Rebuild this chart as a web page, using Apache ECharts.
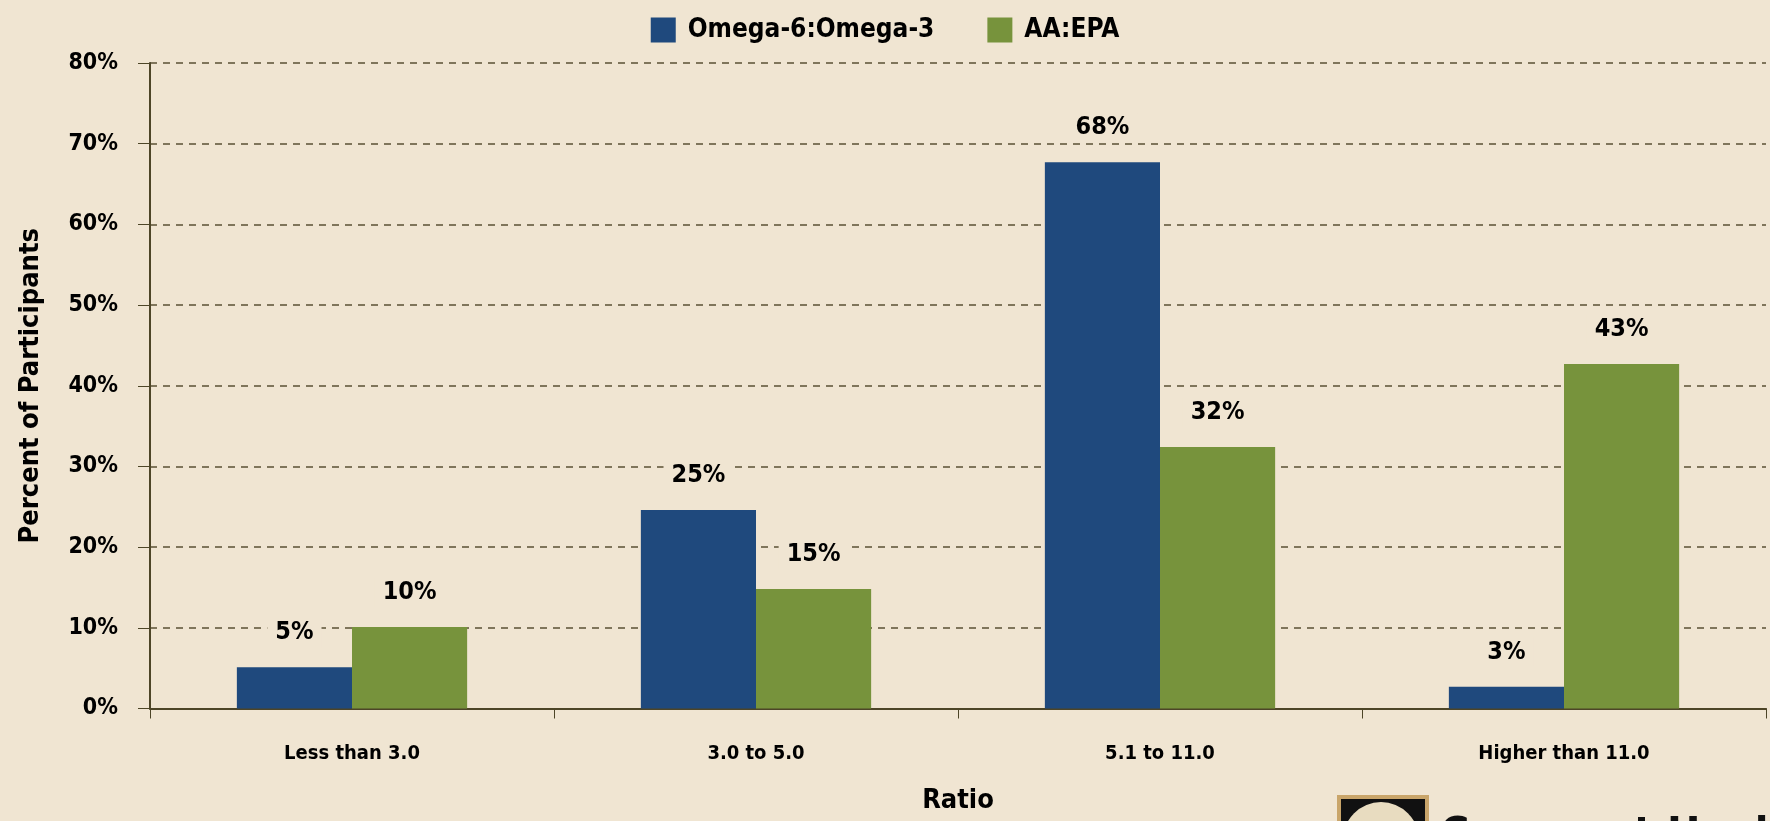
<!DOCTYPE html>
<html>
<head>
<meta charset="utf-8">
<script src="https://cdn.jsdelivr.net/npm/echarts@6/dist/echarts.min.js"></script>
<style>
html,body{margin:0;padding:0;background:#F0E5D2;}
#chart{width:1770px;height:821px;}
</style>
</head>
<body>
<div id="chart"></div>
<script>
var categories = ['Less than 3.0', '3.0 to 5.0', '5.1 to 11.0', 'Higher than 11.0'];
var omegaRatio = [5.1, 24.6, 67.7, 2.7];
var aaEpa = [10.1, 14.8, 32.4, 42.7];
var seriesNames = ['Omega-6:Omega-3', 'AA:EPA'];
var yTicks = {min: 0, max: 80, interval: 10};

var FONT = "'DejaVu Sans Condensed', 'Liberation Sans Narrow', sans-serif";
var BG = '#F0E5D2';
var AXIS = '#4d4527';

var chart = echarts.init(document.getElementById('chart'), null, {renderer: 'canvas'});

function labelCfg() {
  return {
    show: true,
    position: 'top',
    distance: 20,
    formatter: function (p) { return Math.round(p.value) + '%'; },
    fontFamily: FONT,
    fontWeight: 'bold',
    fontSize: 25,
    color: '#000',
    backgroundColor: BG,
    padding: [2, 8]
  };
}

chart.setOption({
  backgroundColor: BG,
  animation: false,
  textStyle: {fontFamily: FONT},
  legend: {
    top: 12,
    left: 'center',
    itemWidth: 25,
    itemHeight: 25,
    itemGap: 53,
    icon: 'rect',
    data: seriesNames,
    textStyle: {fontFamily: FONT, fontWeight: 'bold', fontSize: 26, color: '#000', padding: [0, 0, 0, 7]}
  },
  grid: {left: 150, right: 4, top: 63, bottom: 112.5, containLabel: false},
  xAxis: {
    type: 'category',
    data: categories,
    name: 'Ratio',
    nameLocation: 'middle',
    nameGap: 79,
    nameTextStyle: {fontFamily: FONT, fontWeight: 'bold', fontSize: 27, color: '#000'},
    axisLine: {lineStyle: {color: AXIS, width: 2}},
    axisTick: {show: true, length: 10, lineStyle: {color: AXIS, width: 1}},
    axisLabel: {fontFamily: FONT, fontWeight: 'bold', fontSize: 20, color: '#000', margin: 35}
  },
  yAxis: {
    type: 'value',
    min: yTicks.min,
    max: yTicks.max,
    interval: yTicks.interval,
    name: 'Percent of Participants',
    nameLocation: 'middle',
    nameGap: 106,
    nameTextStyle: {fontFamily: FONT, fontWeight: 'bold', fontSize: 27, color: '#000'},
    axisLine: {show: true, lineStyle: {color: AXIS, width: 2}},
    axisTick: {show: true, length: 12, lineStyle: {color: AXIS, width: 1}},
    axisLabel: {formatter: '{value}%', fontFamily: FONT, fontWeight: 'bold', fontSize: 23, color: '#000', margin: 32},
    splitLine: {show: true, lineStyle: {color: '#5a5035', width: 1.5, type: [7, 6]}}
  },
  series: [
    {
      name: seriesNames[0],
      type: 'bar',
      data: omegaRatio,
      barGap: '0%',
      barCategoryGap: '43%',
      itemStyle: {color: '#1F497D'},
      label: labelCfg()
    },
    {
      name: seriesNames[1],
      type: 'bar',
      data: aaEpa,
      barGap: '0%',
      barCategoryGap: '43%',
      itemStyle: {color: '#77933C'},
      label: labelCfg()
    }
  ],
  graphic: [
    {type: 'rect', left: 1337, top: 795, shape: {width: 88, height: 60}, style: {fill: '#111', stroke: '#C9A56A', lineWidth: 4}, z: 100},
    {type: 'circle', shape: {cx: 1381, cy: 840, r: 38}, style: {fill: '#E8DCC0'}, z: 101},
    {type: 'text', left: 1440, top: 816, style: {text: 'Covenant Health', font: "bold 40px 'DejaVu Sans', sans-serif", fill: '#111'}, z: 101}
  ]
});
</script>
</body>
</html>
